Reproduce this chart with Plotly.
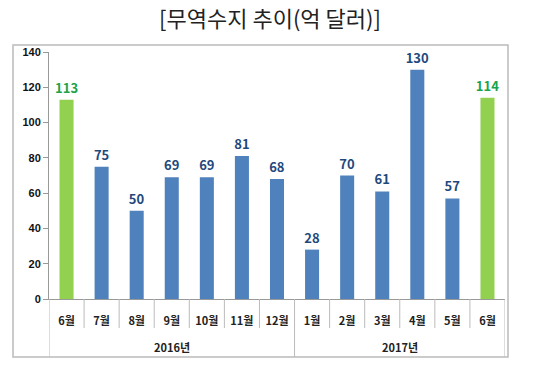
import plotly.graph_objects as go

months = ["6월", "7월", "8월", "9월", "10월", "11월", "12월",
          "1월", "2월", "3월", "4월", "5월", "6월"]
year_labels = ["2016년", "2017년"]
year_counts = [7, 6]
values = [113, 75, 50, 69, 69, 81, 68, 28, 70, 61, 130, 57, 114]

BLUE = "#4F81BD"
GREEN = "#92D050"
n = len(values)
xs = list(range(n))
colors = [GREEN if i in (0, n - 1) else BLUE for i in range(n)]
text_colors = ["#1BA34A" if c == GREEN else "#1F497D" for c in colors]

FONT = "Noto Sans CJK KR"

fig = go.Figure(go.Bar(
    x=xs,
    y=values,
    width=0.4,
    marker=dict(color=colors, line=dict(width=0)),
    text=[str(v) for v in values],
    textposition="outside",
    constraintext="none",
    textfont=dict(color=text_colors, size=13, family=FONT, weight="bold"),
    cliponaxis=False,
    hoverinfo="skip",
))

W, H = 550, 369
pl, pr, pt, pb = 49, 505, 52, 299
def px_x(x): return (x - pl) / (pr - pl)
def px_y(y): return (pb - y) / (pb - pt)

fig.update_layout(
    width=W, height=H,
    margin=dict(l=pl, r=W - pr, t=pt, b=H - pb),
    paper_bgcolor="white", plot_bgcolor="white",
    showlegend=False,
    title=dict(text="[무역수지 추이(억 달러)]", x=270 / W, xanchor="center",
               y=1 - 19 / H, yanchor="middle",
               font=dict(size=22, color="#222", family=FONT)),
    font=dict(family=FONT, color="#222"),
)
fig.update_yaxes(range=[0, 140], dtick=20, showgrid=False, zeroline=False,
                 showline=True, linecolor="#999", linewidth=1,
                 ticks="outside", ticklen=5, tickcolor="#999",
                 tickfont=dict(size=11, color="#111", family="Liberation Sans", weight="bold"))
fig.update_xaxes(range=[-0.5, n - 0.5], showgrid=False, showline=True,
                 linecolor="#999", linewidth=1, ticks="",
                 tickmode="array", tickvals=xs, ticktext=months,
                 ticklabelstandoff=12,
                 tickfont=dict(size=11, color="#222", family=FONT, weight="bold"))

# month dividers
for i in range(n + 1):
    boundary = i - 0.5
    is_year = i in (0, n) or i == year_counts[0]
    fig.add_shape(type="line", xref="x", yref="paper",
                  x0=boundary, x1=boundary, y0=0,
                  y1=px_y(357) if is_year else px_y(328),
                  line=dict(color="#BBBBBB", width=1))

# year labels
start = 0
for lab, cnt in zip(year_labels, year_counts):
    center = start + (cnt - 1) / 2
    fig.add_annotation(x=center, xref="x", y=px_y(347), yref="paper",
                       text=lab, showarrow=False, yanchor="middle",
                       font=dict(size=11, color="#222", family=FONT, weight="bold"))
    start += cnt

# outer chart border
fig.add_shape(type="rect", xref="paper", yref="paper",
              x0=px_x(13), x1=px_x(508), y0=px_y(357), y1=px_y(45),
              line=dict(color="#BBBBBB", width=1.5), layer="below")

fig.write_html("out.html", config={"displayModeBar": False},
               post_script="document.body.style.margin='0';")
